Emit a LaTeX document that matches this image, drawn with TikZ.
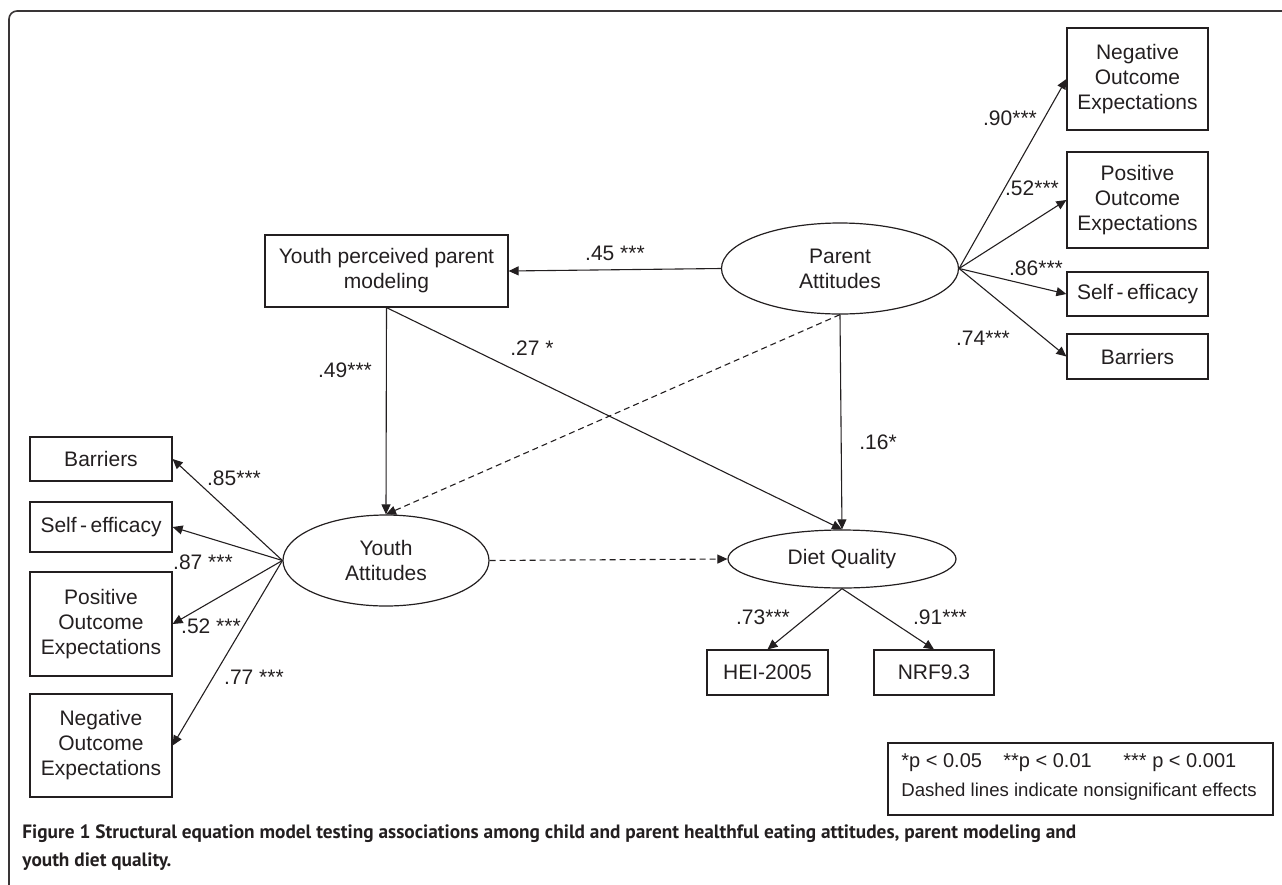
\documentclass[tikz,border=0pt]{standalone}
\usepackage{fontspec}
\setmainfont{Liberation Sans}
\newfontfamily\capfont{PT Sans}
\usetikzlibrary{arrows.meta,shapes.geometric}
\definecolor{ink}{HTML}{231F20}
\begin{document}
\begin{tikzpicture}[x=0.5pt,y=-0.5pt,
  every node/.style={font=\fontsize{10.5}{12.5}\selectfont, text=ink, inner sep=0pt},
  obs/.style={draw=ink, line width=0.6pt, align=center},
  lat/.style={draw=ink, ellipse, line width=0.6pt, align=center},
  arr/.style={draw=ink, line width=0.55pt, -{Triangle[length=5pt,width=4.5pt]}},
  nsarr/.style={arr, dash pattern=on 3pt off 2pt},
  legtext/.style={anchor=west, font=\fontsize{10}{12}\selectfont},
  captext/.style={anchor=base west, font=\capfont\bfseries\fontsize{9.65}{12}\selectfont}
]
\useasboundingbox (0,0) rectangle (1282,885);
% frame
\draw[ink!90, line width=0.8pt, rounded corners=4pt] (1282,11) -- (9,11) -- (9,885);

% right indicators
\node[obs, minimum width=70.5pt, minimum height=51pt] (rneg) at (1137.5,79) {Negative\\Outcome\\Expectations};
\node[obs, minimum width=70.5pt, minimum height=48pt] (rpos) at (1137.5,200) {Positive\\Outcome\\Expectations};
\node[obs, minimum width=70.5pt, minimum height=22pt] (rse) at (1137.5,294) {Self\,-\,efficacy};
\node[obs, minimum width=70.5pt, minimum height=22.5pt] (rbar) at (1137.5,356.5) {Barriers};

% left indicators
\node[obs, minimum width=71pt, minimum height=22pt] (lbar) at (101,459) {Barriers};
\node[obs, minimum width=71pt, minimum height=25pt] (lse) at (101,527) {Self\,-\,efficacy};
\node[obs, minimum width=71pt, minimum height=52pt] (lpos) at (101,624) {Positive\\Outcome\\Expectations};
\node[obs, minimum width=71pt, minimum height=51.5pt] (lneg) at (101,745.5) {Negative\\Outcome\\Expectations};

% central
\node[obs, minimum width=121.5pt, minimum height=36pt] (ypm) at (386.5,271) {Youth perceived parent\\modeling};
\node[lat, minimum width=118.5pt, minimum height=45.5pt] (pa) at (840,268.5) {Parent\\Attitudes};
\node[lat, minimum width=103pt, minimum height=45.5pt] (ya) at (386,560.5) {Youth\\Attitudes};
\node[lat, minimum width=114pt, minimum height=29pt] (dq) at (842,559) {Diet Quality};
\node[obs, minimum width=60.5pt, minimum height=22.5pt] (hei) at (767.5,672.5) {HEI-2005};
\node[obs, minimum width=60pt, minimum height=22.5pt] (nrf) at (934,672.5) {NRF9.3};

% connectors
\draw[arr] (pa.east) -- (rneg.west);
\draw[arr] (pa.east) -- (rpos.west);
\draw[arr] (pa.east) -- (rse.west);
\draw[arr] (pa.east) -- (rbar.west);
\draw[arr] (pa.west) -- (ypm.east);
\draw[arr] (ypm.south) -- (ya.north);
\draw[arr] (ypm.south) -- (dq.north);
\draw[arr] (pa.south) -- (dq.north);
\draw[nsarr] (pa.south) -- (ya.north);
\draw[nsarr] (ya.east) -- (dq.west);
\draw[arr] (ya.west) -- (lbar.east);
\draw[arr] (ya.west) -- (lse.east);
\draw[arr] (ya.west) -- (lpos.east);
\draw[arr] (ya.west) -- (lneg.east);
\draw[arr] (dq.south) -- (hei.north);
\draw[arr] (dq.south) -- (nrf.north);

% coefficient labels
\node (l90) at (1010,118) {.90***};
\node (l52r) at (1032,188) {.52***};
\node (l86) at (1036,268) {.86***};
\node (l74) at (983,338) {.74***};
\node (l45) at (615,253) {.45 ***};
\node (l27) at (532,348) {.27 *};
\node (l49) at (345,370) {.49***};
\node (l16) at (878,442) {.16*};
\node (l85) at (234,478) {.85***};
\node (l87) at (203,562) {.87 ***};
\node (l52l) at (211,626) {.52 ***};
\node (l77) at (254,677) {.77 ***};
\node (l73) at (763,617) {.73***};
\node (l91) at (940,617) {.91***};

% legend
\node[draw=ink, line width=0.6pt, minimum width=192.5pt, minimum height=36pt] (leg) at (1080.5,779) {};
\node[legtext] (lega) at (901,763) {*p < 0.05};
\node[legtext] (legb) at (1003,763) {**p < 0.01};
\node[legtext] (legc) at (1123,763) {*** p < 0.001};
\node[legtext, font=\fontsize{9.3}{11}\selectfont] (legd) at (901,792) {Dashed lines indicate nonsignificant effects};

% caption
\node[captext] (cap1) at (22,838) {Figure 1 Structural equation model testing associations among child and parent healthful eating attitudes, parent modeling and};
\node[captext] (cap2) at (22,866) {youth diet quality.};
\end{tikzpicture}
\end{document}
